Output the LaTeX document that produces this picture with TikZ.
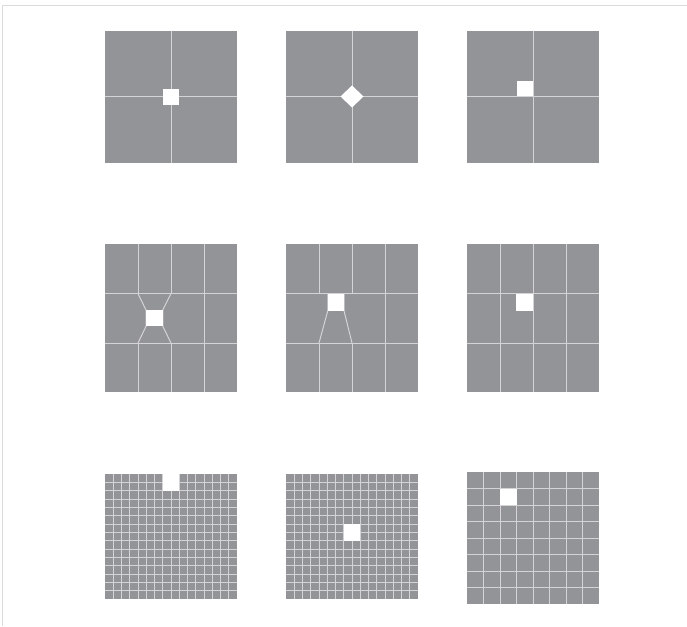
\documentclass[tikz,border=0pt]{standalone}
\definecolor{tile}{RGB}{147,148,152}
\definecolor{seamgray}{RGB}{212,212,214}
\definecolor{framegray}{RGB}{220,220,220}
\tikzset{
  tile area/.style={fill=tile},
  seam/.style={draw=seamgray, line width=1pt},
  hole/.style={fill=white},
}
\begin{document}
\begin{tikzpicture}[x=1pt, y=-1pt]
  \useasboundingbox (0,0) rectangle (687,626);
  \draw[framegray, line width=1pt] (687,6) -- (2.5,6) -- (2.5,626);
  % top row: four big tiles
  \foreach \x in {105,286,467.3} {
    \fill[tile area] (\x,31) rectangle ++(132,132);
    \draw[seam] (\x+66,31) -- ++(0,132);
    \draw[seam] (\x,96.5) -- ++(132,0);
  }
  \fill[hole] (162.8,89) rectangle (179,105.3);
  \fill[hole] (352,85.5) -- (363.5,96.5) -- (352,107.5) -- (340.5,96.5) -- cycle;
  \fill[hole] (516.5,80.5) rectangle (532.8,96);
  % middle row: 4x3 tiles
  \foreach \x in {105,286,467.3} {
    \fill[tile area] (\x,244.3) rectangle ++(132,148);
    \draw[seam] (\x,293.6) -- ++(132,0);
    \draw[seam] (\x,343) -- ++(132,0);
    \draw[seam] (\x+99,244.3) -- ++(0,148);
    \foreach \c in {33,66} {
      \draw[seam] (\x+\c,244.3) -- ++(0,49.3);
      \draw[seam] (\x+\c,343) -- ++(0,49.3);
    }
  }
  \draw[seam] (500.3,293.6) -- ++(0,49.4);
  \draw[seam] (533.3,293.6) -- ++(0,49.4);
  % squeezed seams
  \draw[seam] (138,293.6) -- (146,310) -- (146,326.3) -- (138,343);
  \draw[seam] (171,293.6) -- (162.8,310) -- (162.8,326.3) -- (171,343);
  \fill[hole] (146,310) rectangle (162.8,326.3);
  \draw[seam] (327.8,293.6) -- (327.8,310.7) -- (319,343);
  \draw[seam] (344,293.6) -- (344,310.7) -- (352,343);
  \fill[hole] (327.8,294.1) rectangle (344,310.7);
  \fill[hole] (516,294.1) rectangle (532.8,311);
  % bottom row: fine grids
  \foreach \x in {105,286} {
    \fill[tile area] (\x,474) rectangle ++(132,125);
    \foreach \i in {1,...,15}
      \draw[seam] (\x+\i*8.25,474) -- ++(0,125);
    \foreach \j in {1,...,14}
      \draw[seam] (\x,474+\j*8.333) -- ++(132,0);
  }
  \fill[hole] (162.75,473.5) rectangle ++(16.5,17.2);
  \fill[hole] (343.75,524) rectangle ++(16.5,16.67);
  \fill[tile area] (467.3,472) rectangle ++(131.7,132);
  \foreach \i in {1,...,7} {
    \draw[seam] (467.3+\i*16.46,472) -- ++(0,132);
    \draw[seam] (467.3,472+\i*16.5) -- ++(131.7,0);
  }
  \fill[hole] (500.2,488.5) rectangle ++(16.46,16.5);
\end{tikzpicture}
\end{document}
